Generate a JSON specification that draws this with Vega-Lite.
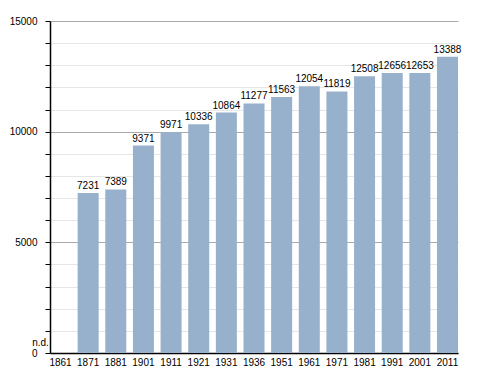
{
  "$schema": "https://vega.github.io/schema/vega-lite/v6.json",
  "autosize": "none",
  "width": 408,
  "height": 332,
  "padding": {"left": 50, "top": 21, "right": 30, "bottom": 20},
  "background": "white",
  "config": {
    "view": {"stroke": null},
    "font": "Liberation Sans",
    "text": {"font": "Liberation Sans"},
    "axisY": {
      "title": null,
      "values": [0, 1000, 2000, 3000, 4000, 5000, 6000, 7000, 8000, 9000, 10000, 11000, 12000, 13000, 14000, 15000],
      "tickCount": 16,
      "labelExpr": "datum.value % 5000 == 0 ? format(datum.value, 'd') : ''",
      "labelOverlap": false,
      "labelFont": "Liberation Sans",
      "labelFontSize": 10,
      "labelColor": "#000",
      "labelPadding": 8,
      "tickSize": 5,
      "tickColor": "#000",
      "domainColor": "#000",
      "domainWidth": 1.5,
      "gridColor": {"condition": {"test": "datum.value % 5000 == 0", "value": "#aaaaaa"}, "value": "#e6e6e6"},
      "gridWidth": 1
    }
  },
  "data": {
    "values": [
      {"year": "1861", "pop": null, "label": "n.d."},
      {"year": "1871", "pop": 7231, "label": "7231"},
      {"year": "1881", "pop": 7389, "label": "7389"},
      {"year": "1901", "pop": 9371, "label": "9371"},
      {"year": "1911", "pop": 9971, "label": "9971"},
      {"year": "1921", "pop": 10336, "label": "10336"},
      {"year": "1931", "pop": 10864, "label": "10864"},
      {"year": "1936", "pop": 11277, "label": "11277"},
      {"year": "1951", "pop": 11563, "label": "11563"},
      {"year": "1961", "pop": 12054, "label": "12054"},
      {"year": "1971", "pop": 11819, "label": "11819"},
      {"year": "1981", "pop": 12508, "label": "12508"},
      {"year": "1991", "pop": 12656, "label": "12656"},
      {"year": "2001", "pop": 12653, "label": "12653"},
      {"year": "2011", "pop": 13388, "label": "13388"}
    ]
  },
  "encoding": {
    "x": {
      "field": "year",
      "type": "ordinal",
      "sort": ["1861", "1871", "1881", "1901", "1911", "1921", "1931", "1936", "1951", "1961", "1971", "1981", "1991", "2001", "2011"],
      "scale": {"paddingInner": 0.24, "paddingOuter": 0},
      "axis": {
        "title": null,
        "labelAngle": 0,
        "ticks": false,
        "labelPadding": 4,
        "labelFont": "Liberation Sans",
        "labelFontSize": 10,
        "labelColor": "#000",
        "domainColor": "#000",
        "domainWidth": 1.5
      }
    }
  },
  "layer": [
    {
      "mark": {"type": "bar", "color": "#97b0cb"},
      "encoding": {
        "y": {"field": "pop", "type": "quantitative", "scale": {"domain": [0, 15000], "nice": false}}
      }
    },
    {
      "mark": {"type": "text", "baseline": "alphabetic", "dy": -4, "fontSize": 10, "color": "#000"},
      "transform": [{"filter": "datum.pop !== null"}],
      "encoding": {
        "y": {"field": "pop", "type": "quantitative"},
        "text": {"field": "label"}
      }
    },
    {
      "mark": {"type": "text", "baseline": "alphabetic", "dy": -7, "dx": -20, "fontSize": 10, "color": "#000"},
      "transform": [{"filter": "datum.pop === null"}],
      "encoding": {
        "y": {"datum": 0, "type": "quantitative"},
        "text": {"field": "label"}
      }
    }
  ]
}
